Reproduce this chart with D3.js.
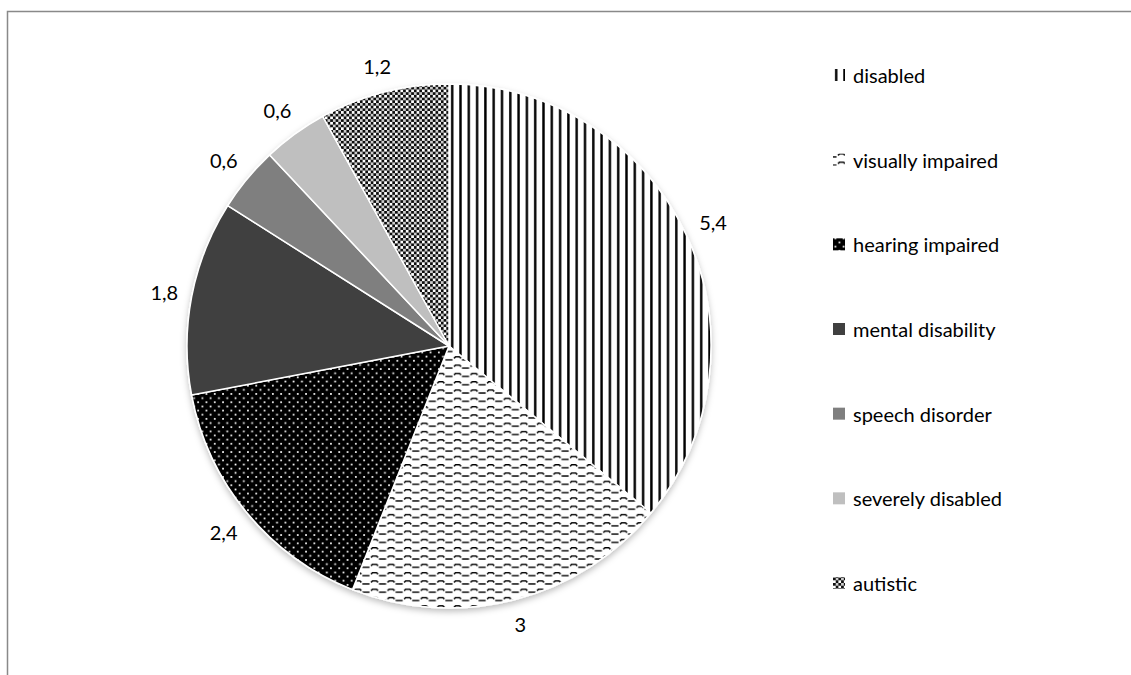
<!DOCTYPE html>
<html><head><meta charset="utf-8">
<script src="https://cdn.jsdelivr.net/npm/d3@7/dist/d3.min.js"></script>
<style>body{margin:0;background:#fff}svg{display:block}text{font-family:Lato,"Open Sans",sans-serif}</style>
</head><body>
<svg id="c" width="1131" height="675"></svg>
<script>
const categories = ["disabled","visually impaired","hearing impaired","mental disability","speech disorder","severely disabled","autistic"];
const values = [5.4, 3, 2.4, 1.8, 0.6, 0.6, 1.2];
const valueLabels = ["5,4","3","2,4","1,8","0,6","0,6","1,2"];
const fills = ["url(#pVert)","url(#pWave)","url(#pDots)","#404040","#7f7f7f","#bfbfbf","url(#pCheck)"];

const svg = d3.select("#c");
const defs = svg.append("defs");
let p = defs.append("pattern").attr("id","pVert").attr("patternUnits","userSpaceOnUse").attr("width",8.3).attr("height",8);
p.append("rect").attr("width",8.3).attr("height",8).attr("fill","#fff");
p.append("rect").attr("x",2).attr("width",2.4).attr("height",8).attr("fill","#000");

p = defs.append("pattern").attr("id","pWave").attr("patternUnits","userSpaceOnUse").attr("width",16.6).attr("height",8.3);
p.append("rect").attr("width",16.6).attr("height",8.3).attr("fill","#fff");
p.append("path").attr("d","M0,5.5 H3.5 M5,4 L6.5,2.5 H10.5 L12,4 M13,5.5 H16.6").attr("stroke","#000").attr("stroke-width",1.5).attr("fill","none");

p = defs.append("pattern").attr("id","pDots").attr("patternUnits","userSpaceOnUse").attr("width",8.3).attr("height",8.3);
p.append("rect").attr("width",8.3).attr("height",8.3).attr("fill","#000");
p.append("rect").attr("x",1.5).attr("y",1.5).attr("width",1.7).attr("height",1.7).attr("fill","#fff");
p.append("rect").attr("x",5.6).attr("y",5.6).attr("width",1.7).attr("height",1.7).attr("fill","#fff");

p = defs.append("pattern").attr("id","pCheck").attr("patternUnits","userSpaceOnUse").attr("width",5.4).attr("height",5.4);
p.append("rect").attr("width",5.4).attr("height",5.4).attr("fill","#fff");
p.append("rect").attr("x",0).attr("y",0).attr("width",2.7).attr("height",2.7).attr("fill","#111");
p.append("rect").attr("x",2.7).attr("y",2.7).attr("width",2.7).attr("height",2.7).attr("fill","#111");
p.append("rect").attr("x",2.7).attr("y",0).attr("width",2.7).attr("height",2.7).attr("fill","#999").attr("opacity",0.5);

const f = defs.append("filter").attr("id","sh").attr("x","-10%").attr("y","-10%").attr("width","120%").attr("height","125%");
f.append("feDropShadow").attr("dx",0).attr("dy",3).attr("stdDeviation",3).attr("flood-color","#000").attr("flood-opacity",0.25);

svg.append("path").attr("d","M7.5,675 V11.5 H1131").attr("fill","none").attr("stroke","#898989").attr("stroke-width",1.5);

const cx = 449, cy = 346, r = 262;
const pie = d3.pie().sort(null).value(d=>d)(values);
const arc = d3.arc().innerRadius(0).outerRadius(r);
const g = svg.append("g").attr("transform",`translate(${cx},${cy})`);
const gp = g.append("g").attr("filter","url(#sh)");
gp.selectAll("path").data(pie).join("path")
  .attr("d",arc).attr("fill",(d,i)=>fills[i])
  .attr("stroke","#fff").attr("stroke-width",1.5).attr("stroke-linejoin","round");

const gap = 12;
g.selectAll("text.lbl").data(pie).join("text").attr("class","lbl")
  .attr("font-size",20).attr("fill","#000").attr("text-anchor","middle").attr("dominant-baseline","central")
  .text((d,i)=>valueLabels[i])
  .each(function(d){
    const bb = this.getBBox();
    const a = (d.startAngle+d.endAngle)/2;
    const s = Math.sin(a), c = -Math.cos(a);
    const ext = Math.abs(s)*bb.width/2 + Math.abs(c)*bb.height/2;
    const rr = r + gap + ext;
    d3.select(this).attr("x", s*rr).attr("y", c*rr);
  });

const ly = d3.scalePoint().domain(categories).range([75, 583]);
const lg = svg.append("g");
const items = lg.selectAll("g").data(categories).join("g").attr("transform",d=>`translate(833,${ly(d)})`);
items.append("rect").attr("x",0).attr("y",-6).attr("width",12).attr("height",12).attr("fill",(d,i)=>fills[i]);
items.append("text").attr("x",20).attr("y",0).attr("dominant-baseline","central").attr("font-size",20).attr("fill","#000").text(d=>d);
</script>
</body></html>
